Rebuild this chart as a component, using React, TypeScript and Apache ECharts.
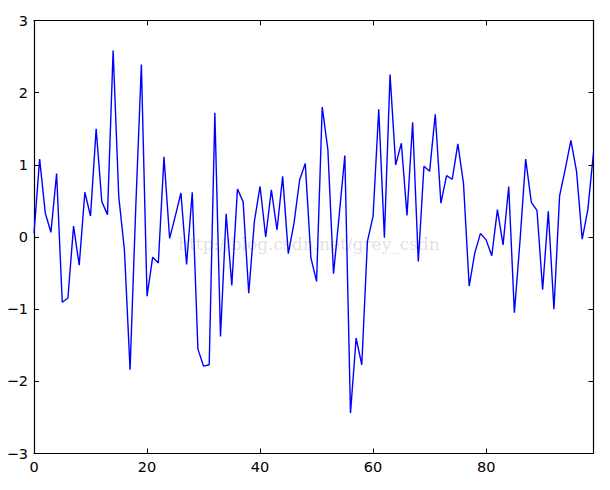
import React, { useEffect, useRef } from "react";
import * as echarts from "echarts";

const values: number[] = [
  0.05, 1.08, 0.33, 0.065, 0.88, -0.905, -0.845, 0.15, -0.39, 0.62,
  0.29, 1.5, 0.49, 0.31, 2.585, 0.56, -0.18, -1.84, 0.4, 2.39,
  -0.82, -0.28, -0.36, 1.11, -0.02, 0.29, 0.61, -0.38, 0.62, -1.55,
  -1.79, -1.77, 1.72, -1.38, 0.32, -0.67, 0.665, 0.49, -0.78, 0.22,
  0.7, 0.0, 0.655, 0.1, 0.84, -0.23, 0.19, 0.79, 1.02, -0.29,
  -0.615, 1.8, 1.21, -0.51, 0.3, 1.13, -2.44, -1.4, -1.77, -0.06,
  0.29, 1.77, -0.01, 2.25, 1.0, 1.3, 0.3, 1.59, -0.34, 0.98,
  0.91, 1.7, 0.47, 0.85, 0.8, 1.29, 0.74, -0.68, -0.22, 0.05,
  -0.04, -0.26, 0.38, -0.11, 0.7, -1.05, -0.05, 1.08, 0.48, 0.37,
  -0.73, 0.355, -1.0, 0.57, 0.94, 1.34, 0.91, -0.03, 0.38, 1.17,
];
const xTicks: number[] = [0, 20, 40, 60, 80];
const yTicks: number[] = [-3, -2, -1, 0, 1, 2, 3];
const watermark = "http://blog.csdn.net/grey_csdn";

export default function App() {
  const ref = useRef<HTMLDivElement>(null);
  useEffect(() => {
    if (!ref.current) return;
    const chart = echarts.init(ref.current, null, { renderer: "svg" });
    const font = { fontFamily: "DejaVu Sans", fontSize: 14.5, color: "#000" };
    const fmt = (v: number) => String(v).replace("-", "\u2212");
    const axisLine = { show: true, onZero: false, lineStyle: { color: "#000", width: 1.2 } };
    const tick = { show: true, inside: true, length: 5, lineStyle: { color: "#000", width: 1 } };
    const xCommon = {
      type: "value" as const,
      min: 0,
      max: values.length - 1,
      interval: 20,
      splitLine: { show: false },
      axisLine,
      axisTick: tick,
    };
    const yCommon = {
      type: "value" as const,
      min: yTicks[0],
      max: yTicks[yTicks.length - 1],
      interval: 1,
      splitLine: { show: false },
      axisLine,
      axisTick: tick,
    };
    chart.setOption({
      animation: false,
      backgroundColor: "#fff",
      grid: { left: 34, right: 16.5, top: 20.5, bottom: 36.5, containLabel: false },
      xAxis: [
        {
          ...xCommon,
          position: "bottom",
          axisLabel: {
            ...font,
            margin: 6,
            formatter: (v: number) => (xTicks.includes(v) ? fmt(v) : ""),
          },
        },
        {
          ...xCommon,
          position: "top",
          axisLabel: { show: false },
        },
      ],
      yAxis: [
        {
          ...yCommon,
          position: "left",
          axisLabel: { ...font, margin: 6, formatter: (v: number) => fmt(v) },
        },
        {
          ...yCommon,
          position: "right",
          axisLabel: { show: false },
        },
      ],
      graphic: [
        {
          type: "text",
          left: 178,
          top: 235,
          silent: true,
          style: {
            text: watermark,
            fill: "rgba(150,150,150,0.3)",
            font: "17px 'DejaVu Serif'",
          },
          z: 0,
        },
      ],
      series: [
        {
          type: "line",
          xAxisIndex: 0,
          yAxisIndex: 0,
          data: values.map((v, i) => [i, v]),
          showSymbol: false,
          symbol: "none",
          lineStyle: { color: "#0000ff", width: 1.4 },
          z: 5,
        },
      ],
    });
    return () => chart.dispose();
  }, []);
  return <div ref={ref} style={{ width: 610, height: 490, position: "absolute", left: 0, top: 0 }} />;
}
